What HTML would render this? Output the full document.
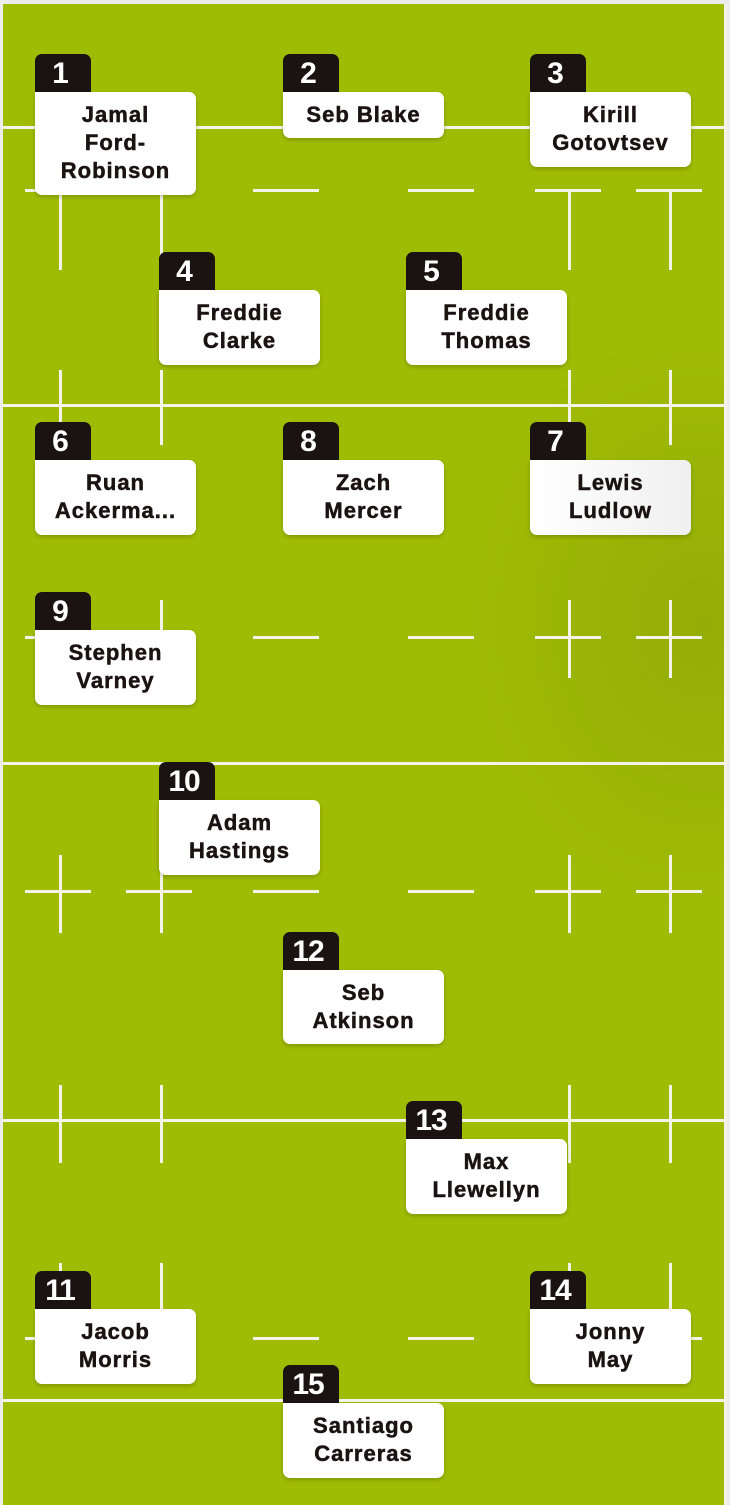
<!DOCTYPE html>
<html><head><meta charset="utf-8"><style>
*{margin:0;padding:0;box-sizing:border-box}
body{width:730px;height:1505px;background:#ececec;position:relative;overflow:hidden;font-family:"Liberation Sans",sans-serif}
#f{position:absolute;left:3px;top:4px;width:723px;height:1501px;background:radial-gradient(ellipse 250px 300px at 700px 620px,#94ad06 0%,rgba(158,187,5,0) 100%),#9fbc04}
.h{position:absolute;background:#f3f3ea;height:3px}
.v{position:absolute;background:#f3f3ea;width:3px}
.t{position:absolute;width:56px;height:40px;background:#1a1311;border-radius:7px 7px 0 0;color:#fff;font-weight:bold;font-size:30px;line-height:40px;text-align:center;padding-right:6px;letter-spacing:-1px}
.c{position:absolute;width:161px;background:#fff;border-radius:0 7px 7px 7px;box-shadow:0 2px 4px rgba(0,0,0,.2);color:#1a1311;font-weight:bold;font-size:22px;line-height:28px;text-align:center;letter-spacing:1px;padding-top:9px;-webkit-text-stroke:0.5px #1a1311}
</style></head><body>
<div id="f"></div>
<div class="h" style="left:3px;top:126px;width:723px"></div>
<div class="h" style="left:3px;top:404px;width:723px"></div>
<div class="h" style="left:3px;top:762px;width:723px"></div>
<div class="h" style="left:3px;top:1119px;width:723px"></div>
<div class="h" style="left:3px;top:1399px;width:723px"></div>
<div class="v" style="left:724px;top:4px;height:1501px"></div>
<div id="dashes"></div>
<script>
var d='';var xs=[25,126,253,408,535,636];
[189,636,890,1337].forEach(function(y){xs.forEach(function(x){d+='<div class="h" style="left:'+x+'px;top:'+y+'px;width:66px"></div>'})});
var vx=[59,160,568,669];
function vv(y1,y2,arr){(arr||vx).forEach(function(x){d+='<div class="v" style="left:'+x+'px;top:'+y1+'px;height:'+(y2-y1)+'px"></div>'})}
vv(190,270);vv(370,445);vv(600,678);vv(855,933);vv(1085,1163);vv(1263,1338);
document.getElementById('dashes').innerHTML=d;
</script>
<div class="t" style="left:35px;top:54px">1</div><div class="c" style="left:35px;top:92px;height:103px">Jamal<br>Ford-<br>Robinson</div>
<div class="t" style="left:283px;top:54px">2</div><div class="c" style="left:283px;top:92px;height:46px">Seb Blake</div>
<div class="t" style="left:530px;top:54px">3</div><div class="c" style="left:530px;top:92px;height:75px">Kirill<br>Gotovtsev</div>
<div class="t" style="left:159px;top:252px">4</div><div class="c" style="left:159px;top:290px;height:75px">Freddie<br>Clarke</div>
<div class="t" style="left:406px;top:252px">5</div><div class="c" style="left:406px;top:290px;height:75px">Freddie<br>Thomas</div>
<div class="t" style="left:35px;top:422px">6</div><div class="c" style="left:35px;top:460px;height:75px">Ruan<br>Ackerma...</div>
<div class="t" style="left:283px;top:422px">8</div><div class="c" style="left:283px;top:460px;height:75px">Zach<br>Mercer</div>
<div class="t" style="left:530px;top:422px">7</div><div class="c" style="left:530px;top:460px;height:75px;background:linear-gradient(90deg,#fff,#f0f0f0)">Lewis<br>Ludlow</div>
<div class="t" style="left:35px;top:592px">9</div><div class="c" style="left:35px;top:630px;height:75px">Stephen<br>Varney</div>
<div class="t" style="left:159px;top:762px">10</div><div class="c" style="left:159px;top:800px;height:75px">Adam<br>Hastings</div>
<div class="t" style="left:283px;top:932px">12</div><div class="c" style="left:283px;top:970px;height:74px">Seb<br>Atkinson</div>
<div class="t" style="left:406px;top:1101px">13</div><div class="c" style="left:406px;top:1139px;height:75px">Max<br>Llewellyn</div>
<div class="t" style="left:35px;top:1271px">11</div><div class="c" style="left:35px;top:1309px;height:75px">Jacob<br>Morris</div>
<div class="t" style="left:530px;top:1271px">14</div><div class="c" style="left:530px;top:1309px;height:75px">Jonny<br>May</div>
<div class="t" style="left:283px;top:1365px">15</div><div class="c" style="left:283px;top:1403px;height:75px">Santiago<br>Carreras</div>
</body></html>
